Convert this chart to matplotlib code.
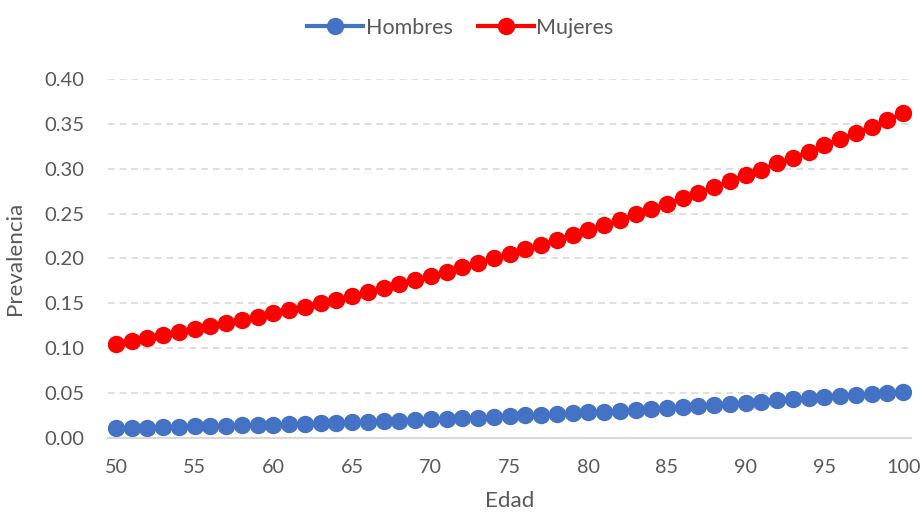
import matplotlib
matplotlib.use("Agg")
import matplotlib.pyplot as plt

# ── Data ──────────────────────────────────────────────────────────────
edad = list(range(50, 101))

hombres = [
    0.0105, 0.0109, 0.0113, 0.0117, 0.0121, 0.0125, 0.0129, 0.0133, 0.0138, 0.0142,
    0.0147, 0.0152, 0.0157, 0.0162, 0.0167, 0.0173, 0.0179, 0.0185, 0.0191, 0.0197,
    0.0204, 0.0211, 0.0218, 0.0225, 0.0232, 0.0240, 0.0248, 0.0256, 0.0264, 0.0273,
    0.0282, 0.0291, 0.0301, 0.0311, 0.0321, 0.0332, 0.0343, 0.0354, 0.0366, 0.0378,
    0.0390, 0.0403, 0.0416, 0.0430, 0.0444, 0.0458, 0.0469, 0.0480, 0.0491, 0.0502,
    0.0512,
]

mujeres = [
    0.105, 0.108, 0.111, 0.114, 0.118, 0.121, 0.124, 0.128, 0.131, 0.135,
    0.139, 0.142, 0.146, 0.150, 0.154, 0.158, 0.162, 0.167, 0.171, 0.176,
    0.180, 0.185, 0.190, 0.195, 0.200, 0.205, 0.210, 0.215, 0.221, 0.226,
    0.232, 0.237, 0.243, 0.249, 0.255, 0.261, 0.267, 0.273, 0.280, 0.286,
    0.293, 0.299, 0.306, 0.312, 0.319, 0.326, 0.333, 0.340, 0.347, 0.354,
    0.362,
]

x_ticks = list(range(50, 101, 5))
y_ticks = [0.00, 0.05, 0.10, 0.15, 0.20, 0.25, 0.30, 0.35, 0.40]

# ── Style ─────────────────────────────────────────────────────────────
plt.rcParams["font.family"] = ["Lato", "DejaVu Sans"]
TXT = "#595959"
GRID = "#D9D9D9"
FS = 14.6

fig = plt.figure(figsize=(9.21, 5.17), dpi=100)
ax = fig.add_axes([0.1173, 0.1534, 0.8719, 0.6938])

ax.plot(edad, hombres, color="#4472C4", lw=3, marker="o", ms=11.5, label="Hombres")
ax.plot(edad, mujeres, color="#FF0000", lw=3, marker="o", ms=11.5, label="Mujeres")

ax.set_xlim(49.5, 100.5)
ax.set_ylim(0, 0.40)
ax.set_xticks(x_ticks)
ax.set_yticks(y_ticks)
ax.set_yticklabels([f"{v:.2f}" for v in y_ticks])
ax.tick_params(axis="both", length=0, labelsize=FS, labelcolor=TXT)
ax.tick_params(axis="x", labelsize=FS - 0.4, pad=15)
ax.tick_params(axis="y", pad=17)

ax.grid(axis="y", color=GRID, lw=1.2, ls=(0, (4, 3)))
ax.set_axisbelow(True)
for side in ["top", "right", "left"]:
    ax.spines[side].set_visible(False)
ax.spines["bottom"].set_color(GRID)
ax.spines["bottom"].set_linewidth(1.5)

ax.set_xlabel("Edad", fontsize=FS + 1.5, color=TXT, labelpad=11)
ax.set_ylabel("Prevalencia", fontsize=FS + 1.5, color=TXT, labelpad=14)

fig.legend(loc="upper center", bbox_to_anchor=(0.5, 1.003), ncol=2, frameon=False,
           fontsize=FS + 0.9, labelcolor=TXT, handlelength=2.6, handletextpad=0.1,
           columnspacing=1.2)

fig.savefig("out.png", dpi=100)
